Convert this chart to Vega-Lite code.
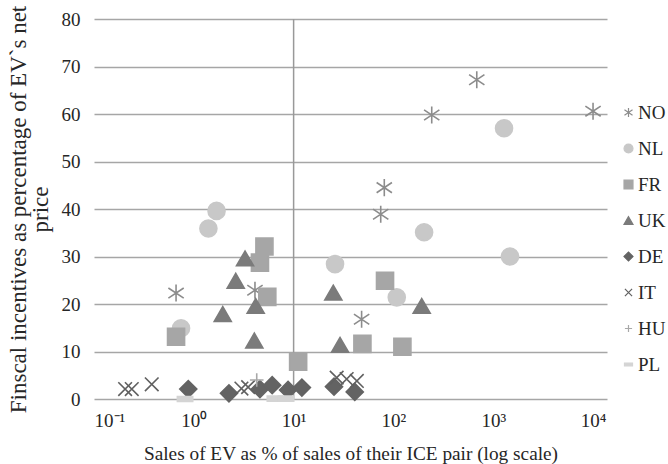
{
  "$schema": "https://vega.github.io/schema/vega-lite/v6.json",
  "width": 513,
  "height": 380,
  "autosize": {"type": "none"},
  "padding": {"left": 94, "top": 19, "right": 61, "bottom": 65},
  "background": "white",
  "config": {
    "font": "Liberation Serif",
    "view": {"stroke": null},
    "axis": {"labelFont": "Liberation Serif", "titleFont": "Liberation Serif", "labelColor": "#262626", "titleColor": "#262626", "titleFontWeight": "normal"},
    "legend": {"labelFont": "Liberation Serif"}
  },
  "datasets": {
    "pts": [
      {"c": "NO", "x": 0.664, "y": 22.3},
      {"c": "NO", "x": 4.1, "y": 22.9},
      {"c": "NO", "x": 48, "y": 16.8},
      {"c": "NO", "x": 74.6, "y": 38.9},
      {"c": "NO", "x": 81, "y": 44.5},
      {"c": "NO", "x": 242, "y": 59.8},
      {"c": "NO", "x": 684, "y": 67.2},
      {"c": "NO", "x": 10000, "y": 60.6},
      {"c": "NL", "x": 0.745, "y": 14.9},
      {"c": "NL", "x": 1.4, "y": 35.9},
      {"c": "NL", "x": 1.69, "y": 39.6},
      {"c": "NL", "x": 26, "y": 28.4},
      {"c": "NL", "x": 108, "y": 21.4},
      {"c": "NL", "x": 203, "y": 35.1},
      {"c": "NL", "x": 1283, "y": 57.0},
      {"c": "NL", "x": 1472, "y": 30.0},
      {"c": "FR", "x": 0.664, "y": 13.1},
      {"c": "FR", "x": 4.6, "y": 28.7},
      {"c": "FR", "x": 5.1, "y": 32.1},
      {"c": "FR", "x": 5.45, "y": 21.5},
      {"c": "FR", "x": 11.1, "y": 7.85},
      {"c": "FR", "x": 48.9, "y": 11.6},
      {"c": "FR", "x": 82.4, "y": 24.9},
      {"c": "FR", "x": 123, "y": 11.0},
      {"c": "UK", "x": 1.95, "y": 17.9},
      {"c": "UK", "x": 2.63, "y": 24.9},
      {"c": "UK", "x": 3.26, "y": 29.6},
      {"c": "UK", "x": 4.04, "y": 12.3},
      {"c": "UK", "x": 4.17, "y": 19.6},
      {"c": "UK", "x": 25, "y": 22.4},
      {"c": "UK", "x": 29.2, "y": 11.4},
      {"c": "UK", "x": 192, "y": 19.6},
      {"c": "DE", "x": 0.88, "y": 2.1},
      {"c": "DE", "x": 2.25, "y": 1.2},
      {"c": "DE", "x": 4.6, "y": 2.1},
      {"c": "DE", "x": 6.1, "y": 2.9},
      {"c": "DE", "x": 8.8, "y": 1.9},
      {"c": "DE", "x": 12.1, "y": 2.4},
      {"c": "DE", "x": 25.4, "y": 2.6},
      {"c": "DE", "x": 41, "y": 1.5},
      {"c": "IT", "x": 0.205, "y": 2.1},
      {"c": "IT", "x": 0.239, "y": 2.1},
      {"c": "IT", "x": 0.379, "y": 3.1},
      {"c": "IT", "x": 3.0, "y": 2.2},
      {"c": "IT", "x": 3.5, "y": 2.5},
      {"c": "IT", "x": 27, "y": 4.5},
      {"c": "IT", "x": 34, "y": 4.2},
      {"c": "IT", "x": 43, "y": 3.8},
      {"c": "HU", "x": 4.27, "y": 4.0},
      {"c": "PL", "x": 0.817, "y": 0},
      {"c": "PL", "x": 6.5, "y": 0.1},
      {"c": "PL", "x": 8.4, "y": 0.1}
    ],
    "vline": [{"x": 10, "y0": 0, "y1": 80}]
  },
  "layer": [
    {
      "data": {"name": "vline"},
      "mark": {"type": "rule", "color": "#999999", "strokeWidth": 1.5},
      "encoding": {
        "x": {"field": "x", "type": "quantitative", "scale": {"type": "log", "domain": [0.1, 13800], "nice": false}},
        "y": {"field": "y0", "type": "quantitative"},
        "y2": {"field": "y1"}
      }
    },
    {
      "data": {"name": "pts"},
      "mark": {"type": "point", "size": 290, "strokeWidth": 1.6, "opacity": 1},
      "encoding": {
        "x": {
          "field": "x", "type": "quantitative",
          "scale": {"type": "log", "domain": [0.1, 13800], "nice": false},
          "axis": {
            "values": [0.1, 1, 10, 100, 1000, 10000],
            "labelExpr": "datum.value < 0.5 ? '10⁻¹' : datum.value < 5 ? '10⁰' : datum.value < 50 ? '10¹' : datum.value < 500 ? '10²' : datum.value < 5000 ? '10³' : '10⁴'",
            "labelFontSize": 19,
            "labelPadding": 12,
            "ticks": false,
            "domain": false,
            "grid": false,
            "title": "Sales of EV as % of sales of their ICE pair (log scale)",
            "titleFontSize": 19.3,
            "titlePadding": 14
          }
        },
        "y": {
          "field": "y", "type": "quantitative",
          "scale": {"domain": [0, 80], "nice": false},
          "axis": {
            "values": [0, 10, 20, 30, 40, 50, 60, 70, 80],
            "labelFontSize": 19,
            "labelPadding": 14,
            "ticks": false,
            "domain": false,
            "grid": true,
            "gridColor": "#a6a6a6",
            "gridWidth": 1.4,
            "title": ["Finscal incentives as percentage of EV`s net", "price"],
            "titleFontSize": 23,
            "titlePadding": 9,
            "titleLineHeight": 22
          }
        },
        "shape": {
          "field": "c", "type": "nominal",
          "scale": {
            "domain": ["NO", "NL", "FR", "UK", "DE", "IT", "HU", "PL"],
            "range": [
              "M0,-1L0,1M-0.9,-0.6L0.9,0.6M-0.9,0.6L0.9,-0.6",
              "circle",
              "square",
              "triangle-up",
              "diamond",
              "M-0.8,-0.8L0.8,0.8M-0.8,0.8L0.8,-0.8",
              "M-0.8,0L0.8,0M0,-0.8L0,0.8",
              "M-0.9,-0.3L0.9,-0.3L0.9,0.3L-0.9,0.3Z"
            ]
          },
          "legend": {
            "title": null,
            "orient": "none",
            "legendX": 525,
            "legendY": 84,
            "labelFontSize": 19,
            "labelColor": "#262626",
            "symbolSize": 80,
            "symbolStrokeWidth": 1.2,
            "rowPadding": 16,
            "labelOffset": 0
          }
        },
        "fill": {
          "field": "c", "type": "nominal",
          "scale": {
            "domain": ["NO", "NL", "FR", "UK", "DE", "IT", "HU", "PL"],
            "range": ["transparent", "#c8c8c8", "#a6a6a6", "#7b7b7b", "#636363", "transparent", "transparent", "#d4d4d4"]
          },
          "legend": null
        },
        "stroke": {
          "field": "c", "type": "nominal",
          "scale": {
            "domain": ["NO", "NL", "FR", "UK", "DE", "IT", "HU", "PL"],
            "range": ["#8c8c8c", "#c8c8c8", "#a6a6a6", "#7b7b7b", "#636363", "#606060", "#a8a8a8", "#d4d4d4"]
          },
          "legend": null
        }
      }
    }
  ]
}
